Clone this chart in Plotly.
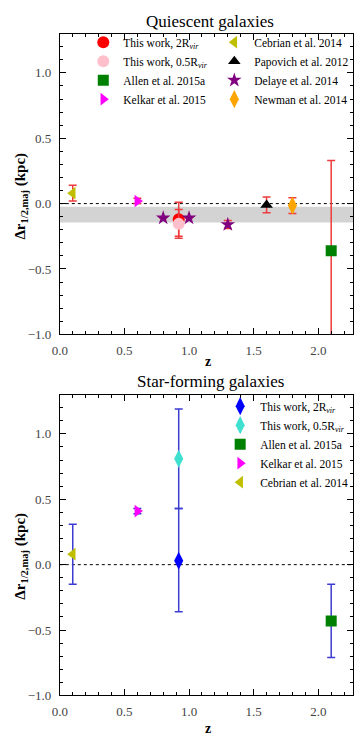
import plotly.graph_objects as go

# ---------------- data ----------------
# Quiescent galaxies
q_tw2_z, q_tw2_y, q_tw2_e = [0.92], [-0.12], [0.13]
q_tw05_z, q_tw05_y, q_tw05_e = [0.92], [-0.155], [0.11]
q_allen_z, q_allen_y, q_allen_e = [2.1], [-0.36], [0.69]
q_kelkar_z, q_kelkar_y, q_kelkar_e = [0.6], [0.02], [0.02]
q_cebrian_z, q_cebrian_y, q_cebrian_e = [0.1], [0.08], [0.06]
q_papovich_z, q_papovich_y, q_papovich_e = [1.6], [-0.01], [0.06]
q_delaye_z, q_delaye_y, q_delaye_e = [0.8, 1.0, 1.3], [-0.11, -0.11, -0.16], [0.0, 0.0, 0.03]
q_newman_z, q_newman_y, q_newman_e = [1.8], [-0.015], [0.06]
q_band = [-0.025, -0.145]

# Star-forming galaxies
s_tw2_z, s_tw2_y, s_tw2_ep, s_tw2_em = [0.92], [0.03], [0.40], [0.39]
s_tw05_z, s_tw05_y, s_tw05_e = [0.92], [0.81], [0.38]
s_allen_z, s_allen_y, s_allen_e = [2.1], [-0.43], [0.28]
s_kelkar_z, s_kelkar_y, s_kelkar_e = [0.6], [0.41], [0.02]
s_cebrian_z, s_cebrian_y, s_cebrian_e = [0.1], [0.08], [0.23]

x_ticks = [0.0, 0.5, 1.0, 1.5, 2.0]
y_ticks = [-1.0, -0.5, 0.0, 0.5, 1.0]

FONT = "Liberation Serif"
W, H = 360, 741
RED_ERR = "#ee3b3b"
BLUE_ERR = "#3c3cd2"

fig = go.Figure()


def add(x, y, ep, em, name, symbol, color, size, xa, ya, legend, errc):
    fig.add_trace(go.Scatter(
        x=x, y=y, mode="markers", name=name,
        marker=dict(symbol=symbol, color=color, size=size, line=dict(width=0)),
        error_y=dict(type="data", array=ep, arrayminus=em, color=errc,
                     thickness=1.5, width=4, visible=True),
        xaxis=xa, yaxis=ya, legend=legend, showlegend=True))


sub = "<sub><i>vir</i></sub>"
# top panel, column 1
add(q_tw2_z, q_tw2_y, q_tw2_e, q_tw2_e, "This work, 2R" + sub, "circle", "#ff0000", 12, "x", "y", "legend", RED_ERR)
add(q_tw05_z, q_tw05_y, q_tw05_e, q_tw05_e, "This work, 0.5R" + sub, "circle", "#ffc0cb", 12, "x", "y", "legend", RED_ERR)
add(q_allen_z, q_allen_y, q_allen_e, q_allen_e, "Allen et al. 2015a", "square", "#008000", 11, "x", "y", "legend", RED_ERR)
add(q_kelkar_z, q_kelkar_y, q_kelkar_e, q_kelkar_e, "Kelkar et al. 2015", "triangle-right", "#ff00ff", 11, "x", "y", "legend", RED_ERR)
# top panel, column 2
add(q_cebrian_z, q_cebrian_y, q_cebrian_e, q_cebrian_e, "Cebrian et al. 2014", "triangle-left", "#bfbf00", 11, "x", "y", "legend3", RED_ERR)
add(q_papovich_z, q_papovich_y, q_papovich_e, q_papovich_e, "Papovich et al. 2012", "triangle-up", "#000000", 11, "x", "y", "legend3", RED_ERR)
add(q_delaye_z, q_delaye_y, q_delaye_e, q_delaye_e, "Delaye et al. 2014", "star", "#800080", 11, "x", "y", "legend3", RED_ERR)
add(q_newman_z, q_newman_y, q_newman_e, q_newman_e, "Newman et al. 2014", "diamond-tall", "#ffa500", 13, "x", "y", "legend3", RED_ERR)

# bottom panel
add(s_tw2_z, s_tw2_y, s_tw2_ep, s_tw2_em, "This work, 2R" + sub, "diamond-tall", "#0000ff", 13, "x2", "y2", "legend2", BLUE_ERR)
add(s_tw05_z, s_tw05_y, s_tw05_e, s_tw05_e, "This work, 0.5R" + sub, "diamond-tall", "#40e0d0", 13, "x2", "y2", "legend2", BLUE_ERR)
add(s_allen_z, s_allen_y, s_allen_e, s_allen_e, "Allen et al. 2015a", "square", "#008000", 11, "x2", "y2", "legend2", BLUE_ERR)
add(s_kelkar_z, s_kelkar_y, s_kelkar_e, s_kelkar_e, "Kelkar et al. 2015", "triangle-right", "#ff00ff", 11, "x2", "y2", "legend2", BLUE_ERR)
add(s_cebrian_z, s_cebrian_y, s_cebrian_e, s_cebrian_e, "Cebrian et al. 2014", "triangle-left", "#bfbf00", 11, "x2", "y2", "legend2", BLUE_ERR)

# shapes: grey band and zero lines
fig.add_shape(type="rect", xref="x domain", yref="y", x0=0, x1=1, y0=q_band[0], y1=q_band[1],
              fillcolor="#d3d3d3", line=dict(width=0), layer="below")
for xr, yr in (("x domain", "y"), ("x2 domain", "y2")):
    fig.add_shape(type="line", xref=xr, yref=yr, x0=0, x1=1, y0=0, y1=0,
                  line=dict(color="black", width=1, dash="dot"), layer="below")

xl, xr_ = 53 / W, 353 / W
top_dom = [1 - 338 / H, 1 - 34 / H]
bot_dom = [1 - 703 / H, 1 - 399 / H]

axis_common = dict(
    showline=True, linecolor="black", linewidth=1, mirror="ticks",
    ticks="inside", ticklen=6, tickwidth=1, tickcolor="black",
    minor=dict(ticks="inside", ticklen=3, tickcolor="black", dtick=0.1),
    showgrid=False, zeroline=False, tickformat=".1f",
    tickfont=dict(family=FONT, size=13, color="#444"),
)
xa_common = dict(axis_common, ticklabelstandoff=4)
ya_common = dict(axis_common, ticklabelstandoff=5)

leg_font = dict(family=FONT, size=11.5, color="black")
fig.update_layout(
    width=W, height=H, margin=dict(l=0, r=0, t=0, b=0),
    paper_bgcolor="white", plot_bgcolor="white",
    xaxis=dict(domain=[xl, xr_], range=[0, 2.27], tickvals=x_ticks, anchor="y", **xa_common),
    yaxis=dict(domain=top_dom, range=[-1, 1.3], tickvals=y_ticks, anchor="x", **ya_common),
    xaxis2=dict(domain=[xl, xr_], range=[0, 2.27], tickvals=x_ticks, anchor="y2", **xa_common),
    yaxis2=dict(domain=bot_dom, range=[-1, 1.3], tickvals=y_ticks, anchor="x2", **ya_common),
    legend=dict(x=77 / W, y=1 - 28 / H, xanchor="left", yanchor="top", bgcolor="rgba(0,0,0,0)",
                font=leg_font, tracegroupgap=0),
    legend3=dict(x=211 / W, y=1 - 28 / H, xanchor="left", yanchor="top", bgcolor="rgba(0,0,0,0)",
                 font=leg_font, tracegroupgap=0),
    legend2=dict(x=217 / W, y=1 - 396 / H, xanchor="left", yanchor="top", bgcolor="rgba(0,0,0,0)",
                 font=leg_font, tracegroupgap=0),
)

ann_font = dict(family=FONT, color="black")
anns = [
    dict(text="Quiescent galaxies", x=207 / W, y=1 - 22 / H, size=17),
    dict(text="Star-forming galaxies", x=207 / W, y=1 - 386 / H, size=17),
    dict(text="<b>z</b>", x=205 / W, y=1 - 365 / H, size=14),
    dict(text="<b>z</b>", x=205 / W, y=1 - 736 / H, size=14),
]
for a in anns:
    fig.add_annotation(text=a["text"], x=a["x"], y=a["y"], xref="paper", yref="paper",
                       showarrow=False, xanchor="center", yanchor="middle",
                       font=dict(size=a["size"], **ann_font))
for yc in (1 - 198 / H, 1 - 562 / H):
    fig.add_annotation(text="<b>Δr<sub>1/2,maj</sub> (kpc)</b>", x=13 / W, y=yc, xref="paper", yref="paper",
                       showarrow=False, textangle=-90, xanchor="center", yanchor="middle",
                       font=dict(size=15, **ann_font))

fig.write_html("out.html")
